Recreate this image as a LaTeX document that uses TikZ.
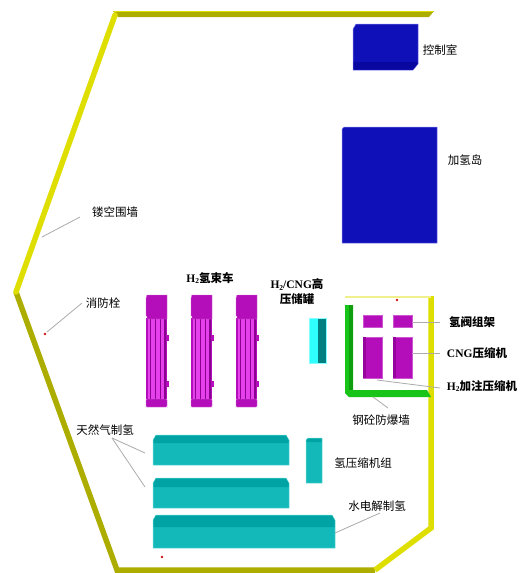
\documentclass[tikz,border=0pt]{standalone}
\usepackage{fontspec}
\setmainfont{Liberation Serif}
\newfontfamily\cjk{Noto Sans CJK SC}
\newcommand\Htwo{{\rmfamily\bfseries H\raisebox{-0.35ex}{\fontsize{7.5}{8}\selectfont 2}}}
\definecolor{olive}{HTML}{ADAD00}
\definecolor{yel}{HTML}{DEDE00}
\definecolor{bluebox}{HTML}{1010B8}
\definecolor{bluedark}{HTML}{0808A0}
\definecolor{blueedge}{HTML}{7C7CF0}
\definecolor{maghead}{HTML}{B40DBA}
\definecolor{magbody}{HTML}{E640EC}
\definecolor{magdark}{HTML}{8A0090}
\definecolor{cyanlt}{HTML}{30FFFF}
\definecolor{cyandk}{HTML}{008080}
\definecolor{tealmain}{HTML}{13B9B9}
\definecolor{tealtop}{HTML}{00A3A3}
\definecolor{tealedge}{HTML}{70DADA}
\definecolor{grn}{HTML}{19C419}
\definecolor{grndark}{HTML}{0E9E0E}
\definecolor{hydrant}{HTML}{D01010}
\tikzset{
  lbl/.style={inner sep=0pt, font=\fontsize{11.5}{14}\selectfont\cjk},
  blbl/.style={lbl, font=\fontsize{11.5}{14}\selectfont\cjk\bfseries},
  leader/.style={draw=gray!65, line width=0.8pt},
  fenceO/.style={draw=olive, line width=5.5pt, line join=miter},
  fenceY/.style={draw=yel, line width=5.5pt, line join=miter},
  magblock/.style={fill=maghead, draw=maghead!70!white, line width=0.5pt},
  trailer/.pic={
    % tube bundle
    \fill[maghead] (0,23) rectangle (21,106);
    \fill[magbody] (2,23) rectangle (19,106);
    \foreach \s in {3.5,8.5,13.5,18} \fill[magdark] (\s,23) rectangle (\s+1.5,106);
    % side fittings
    \fill[maghead] (21,40) rectangle (23,46);
    \fill[maghead] (21,86) rectangle (23,92);
    % tractor head
    \fill[maghead, draw=maghead!60!white, line width=0.4pt]
      (1,0) -- (21,0) -- (21,24) -- (1,24) -- (1,21) -- (0,21) -- (0,3) -- cycle;
    % rear bumper
    \fill[maghead, draw=maghead!60!white, line width=0.4pt,
      rounded corners=1pt] (0,104) rectangle (21,112);
  },
  tealbox/.pic={
    \fill[tealmain, draw=tealedge, line width=0.5pt]
      (0,5) -- (3,0) -- (\bw-3,0) -- (\bw,5) -- (\bw,\bh) -- (0,\bh) -- cycle;
    \fill[tealtop] (0.5,5) -- (3,0.5) -- (\bw-3,0.5) -- (\bw-0.5,5)
      -- (\bw-0.5,\bs) -- (0.5,\bs) -- cycle;
  }
}
\begin{document}
\begin{tikzpicture}[x=1pt,y=-1pt]
\useasboundingbox (0,0) rectangle (524,573);
\fill[white] (0,0) rectangle (524,573);

% ---- perforated boundary wall ----
\fill[olive] (113,11) -- (434,11) -- (429,17) -- (118,17) -- cycle;
\draw[yel, line width=0.6pt] (114,11.3) -- (433,11.3);
\draw[fenceO] (16,292) -- (117,570) -- (375,570);
\draw[fenceY, line cap=round] (115,15) -- (16,292);
\draw[fenceY] (375,570) -- (431,528) -- (431,296);
\draw[yel!45!white, line width=1.5pt] (345,297) -- (431,297);

% ---- control room ----
\fill[bluebox, draw=blueedge, line width=0.5pt]
  (356,24) -- (418,24) -- (418,64) -- (413,70) -- (353,70) -- (353,29) -- cycle;
\fill[bluedark] (353.5,62) -- (417.5,62) -- (417.5,64) -- (413,69.5) -- (353.5,69.5) -- cycle;
\node[lbl] (ctrl) at (440,50) {控制室};

% ---- refuelling island ----
\fill[bluebox, draw=blueedge, line width=0.5pt]
  (344,127) -- (437,127) -- (437,243) -- (342,243) -- (342,129) -- cycle;
\node[lbl] (island) at (465,160) {加氢岛};

% ---- tube trailers ----
\pic at (146,295) {trailer};
\pic at (191,295) {trailer};
\pic at (236,295) {trailer};
\node[blbl] (trl) at (210,278) {\Htwo 氢束车};

% ---- storage tank ----
\fill[cyanlt] (309,318) rectangle (318,363);
\fill[cyandk] (318,318) rectangle (326,363);
\draw[cyanlt!60!white, line width=0.5pt] (309,318) rectangle (326,363);
\node[blbl, align=center] (tank) at (297,292)
  {\Htwo{\rmfamily\bfseries /CNG}高\\[1pt]压储罐};

% ---- blast wall ----
\fill[grn] (345,305) -- (353,305) -- (353,390) -- (427,390) -- (431,397)
  -- (349,397) -- (345,393) -- cycle;
\fill[grndark] (349,390) -- (353,390) -- (353,305) -- (349,305) -- cycle;
\node[lbl] (blast) at (381,420) {钢砼防爆墙};

% ---- valve racks and compressors ----
\fill[magblock] (363,315) rectangle (382,327);
\fill[magblock] (393,315) rectangle (412,327);
\fill[magblock] (363,337) rectangle (382,378);
\fill[magblock] (393,337) rectangle (412,378);
\fill[magdark!70!maghead] (393,337) rectangle (396,378);
\fill[magdark!70!maghead] (363,337) rectangle (366,378);
\node[blbl] (valve) at (472,322) {氢阀组架};
\node[blbl] (cng) at (477,353) {{\rmfamily\bfseries CNG}压缩机};
\node[blbl] (h2c) at (482,386) {\Htwo 加注压缩机};

% ---- production units ----
\def\bw{136}\def\bh{30}\def\bs{8}
\pic at (153,435) {tealbox};
\def\bw{136}\def\bh{30}\def\bs{9}
\pic at (153,478) {tealbox};
\def\bw{182}\def\bh{33}\def\bs{12}
\pic at (153,515) {tealbox};
\fill[tealmain, draw=tealedge, line width=0.5pt]
  (306,440) -- (308,438) -- (322,438) -- (322,483) -- (306,483) -- cycle;
\fill[tealtop] (306.5,440) -- (308,438.5) -- (321.5,438.5) -- (321.5,442) -- (306.5,442) -- cycle;
\node[lbl] (smr) at (105,430) {天然气制氢};
\node[lbl] (comp) at (363,463) {氢压缩机组};
\node[lbl] (elec) at (377,506) {水电解制氢};
\node[lbl] (fence) at (115,212) {镂空围墙};
\node[lbl] (hyd) at (103,303) {消防栓};

% ---- fire hydrants ----
\fill[hydrant] (45,334) circle (1.3);
\fill[hydrant] (397,300) circle (1.3);
\fill[hydrant] (162,557) circle (1.3);

% ---- leader lines ----
\coordinate (fenceA) at (80,217);   \coordinate (fenceB) at (42,237);
\coordinate (hydA) at (82,303);     \coordinate (hydB) at (47,332);
\coordinate (smrA) at (112,438);    \coordinate (smrB) at (145,453);
\coordinate (smrC) at (145,487);
\coordinate (elecA) at (380,513);   \coordinate (elecB) at (335,533);
\coordinate (valveA) at (440,322);  \coordinate (valveB) at (412,322);
\coordinate (cngA) at (440,353);    \coordinate (cngB) at (412,353);
\coordinate (h2cA) at (440,388);    \coordinate (h2cB) at (377,380);
\coordinate (blastA) at (388,408);  \coordinate (blastB) at (373,397);
\draw[leader] (fenceA) -- (fenceB);
\draw[leader] (hydA) -- (hydB);
\draw[leader] (smrA) -- (smrB);
\draw[leader] (smrA) -- (smrC);
\draw[leader] (elecA) -- (elecB);
\draw[leader] (valveA) -- (valveB);
\draw[leader] (cngA) -- (cngB);
\draw[leader] (h2cA) -- (h2cB);
\draw[leader] (blastA) -- (blastB);
\end{tikzpicture}
\end{document}
